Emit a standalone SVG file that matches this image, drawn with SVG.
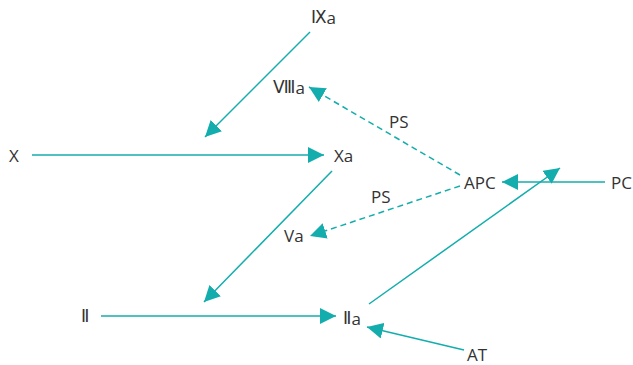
<svg xmlns="http://www.w3.org/2000/svg" width="633" height="365" viewBox="0 0 633 365">
<style>
text{font-family:"Open Sans","Noto Sans","Noto Sans CJK JP",sans-serif;font-size:17px;fill:#333;dominant-baseline:central}
.r{font-family:"DejaVu Sans","Noto Sans CJK JP",sans-serif;font-size:17px}
.l{stroke:#14adad;stroke-width:1.5;fill:none}
.d{stroke-dasharray:6,4}
</style>
<defs>
<marker id="ah" markerUnits="userSpaceOnUse" markerWidth="16" markerHeight="16" refX="16" refY="8" orient="auto">
<path d="M0,0 L16,8 L0,16 z" fill="#14adad"/>
</marker>
</defs>
<rect width="633" height="365" fill="#fff"/>
<g id="connectors">
<line class="l" x1="310" y1="32" x2="205" y2="137" marker-end="url(#ah)"/>
<line class="l" x1="32" y1="155" x2="324" y2="155" marker-end="url(#ah)"/>
<line class="l" x1="332" y1="171" x2="204" y2="302" marker-end="url(#ah)"/>
<line class="l" x1="101" y1="316" x2="336" y2="316" marker-end="url(#ah)"/>
<line class="l" x1="369" y1="304" x2="560" y2="168" marker-end="url(#ah)"/>
<line class="l" x1="605" y1="182" x2="502" y2="182" marker-end="url(#ah)"/>
<line class="l" x1="464" y1="350" x2="367" y2="327" marker-end="url(#ah)"/>
<line class="l d" x1="460" y1="175" x2="309" y2="87" marker-end="url(#ah)"/>
<line class="l d" x1="460" y1="186" x2="310" y2="236" marker-end="url(#ah)"/>
</g>
<g id="IXa"><text x="311" y="17"><tspan class="r">Ⅸ</tspan>a</text></g>
<g id="VIIIa"><text x="273" y="87"><tspan class="r">Ⅷ</tspan>a</text></g>
<g id="X"><text x="9" y="155">X</text></g>
<g id="Xa"><text x="334" y="155">Xa</text></g>
<g id="APC"><text x="464" y="182">APC</text></g>
<g id="PC"><text x="611" y="182">PC</text></g>
<g id="PS1"><text x="389" y="121">PS</text></g>
<g id="PS2"><text x="371" y="196">PS</text></g>
<g id="Va"><text x="284" y="235">Va</text></g>
<g id="II"><text x="81" y="316"><tspan class="r">Ⅱ</tspan></text></g>
<g id="IIa"><text x="343" y="318"><tspan class="r">Ⅱ</tspan>a</text></g>
<g id="AT"><text x="467" y="354">AT</text></g>
</svg>
